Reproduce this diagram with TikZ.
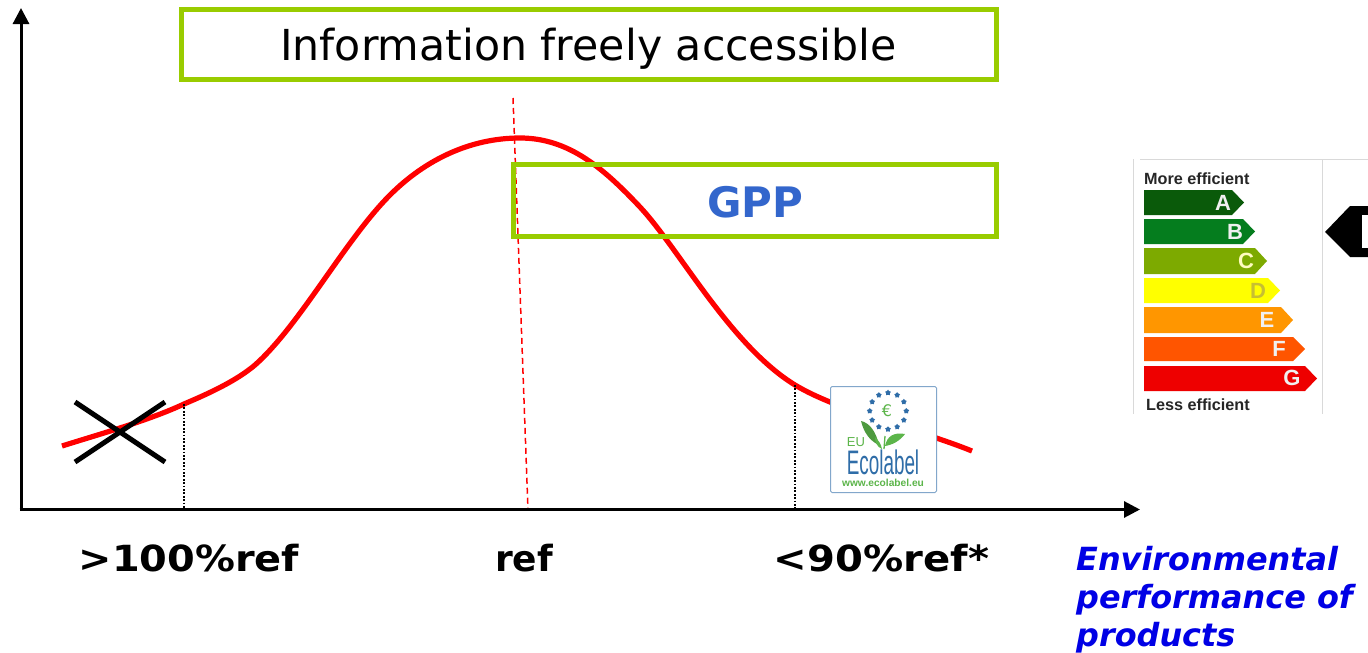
\documentclass[tikz,border=0pt]{standalone}
\usepackage{fontspec}
\setmainfont{DejaVu Sans}
\newfontfamily\arialf{Liberation Sans}
\usetikzlibrary{arrows.meta,shapes.geometric}
\definecolor{boxgreen}{HTML}{99CC00}
\definecolor{gppblue}{HTML}{3366CC}
\definecolor{logoblue}{HTML}{2F6DA8}
\definecolor{logogreen}{HTML}{5CB54A}
\tikzset{
  greenbox/.style={draw=boxgreen,line width=5pt,fill=none,inner sep=0pt,outer sep=0pt,anchor=north west},
  axisline/.style={line width=3pt,-{Triangle[length=16pt,width=16pt]}},
  dropline/.style={line width=1.5pt,dash pattern=on 1.7pt off 1.7pt},
  crossline/.style={line width=5pt},
  axislabel/.style={font=\fontsize{36}{36}\selectfont\bfseries,inner sep=0pt},
  gradeletter/.style={font=\arialf\fontsize{22}{22}\selectfont\bfseries,inner sep=0pt,text=white!88!gray},
  effnote/.style={font=\arialf\fontsize{16.2}{16.2}\selectfont\bfseries,inner sep=0pt,anchor=west,text=black!85},
  logostar/.style={star,star points=5,fill=logoblue,draw=none,minimum size=6pt,inner sep=0pt}
}
\begin{document}
\begin{tikzpicture}[x=1pt,y=-1pt]
\useasboundingbox (0,0) rectangle (1368,653);
\fill[white] (0,0) rectangle (1368,653);

% curve and its reference line
\coordinate (refTop) at (513,98);
\coordinate (refBase) at (528,510);
\draw[red,line width=1.5pt,dash pattern=on 6pt off 4pt] (refTop) -- (refBase);
\draw[red,line width=5.2pt,line join=round] (62,446)
 .. controls (100,434) and (150,420) .. (184,404)
 .. controls (205,395) and (235,382) .. (255,365)
 .. controls (300,325) and (345,240) .. (390,195)
 .. controls (425,160) and (470,138) .. (520,138)
 .. controls (570,138) and (605,170) .. (640,207)
 .. controls (680,250) and (730,345) .. (795,385)
 .. controls (840,412) and (915,428) .. (972,451);

% axes
\coordinate (origin) at (21,509.5);
\coordinate (yEnd) at (21,8);
\coordinate (xEnd) at (1140,509.5);
\draw[axisline] (origin) -- (yEnd);
\draw[axisline] ([xshift=-1.5pt]origin) -- (xEnd);

% drop lines
\coordinate (dropA) at (184,404);
\coordinate (dropAb) at (184,509);
\coordinate (dropB) at (795,385);
\coordinate (dropBb) at (795,509);
\draw[dropline] (dropA) -- (dropAb);
\draw[dropline] (dropB) -- (dropBb);

% cross
\coordinate (c1) at (75,402); \coordinate (c2) at (165,462);
\coordinate (c3) at (75,462); \coordinate (c4) at (165,402);
\draw[crossline] (c1) -- (c2);
\draw[crossline] (c3) -- (c4);

% boxes
\node[greenbox,minimum width=814.5pt,minimum height=70pt] (info) at (181.5,9.5) {};
\node[font=\fontsize{42.7}{44}\selectfont,inner sep=0pt] (infotext) at (588.5,49) {Information freely accessible};
\node[greenbox,minimum width=483pt,minimum height=71.5pt] (gpp) at (513.5,164.5) {};
\node[font=\fontsize{42}{42}\selectfont\bfseries,text=gppblue,inner sep=0pt] (gpptext) at (755.5,202) {GPP};

% axis labels
\node[axislabel,xscale=1.107] (lowlab) at (189,558) {>100\%ref};
\node[axislabel] (reflab) at (524,558) {ref};
\node[axislabel,xscale=1.115] (highlab) at (881.5,558) {<90\%ref*};
\node[font=\fontsize{31.9}{38}\selectfont\bfseries\itshape,text=blue!90!black,align=left,anchor=north west,inner sep=0pt] (envlab) at (1076,546)
 {Environmental\\performance of\\products};

% Ecolabel logo
\fill[white,draw=logoblue!60!white,line width=1pt,rounded corners=1.5pt] (830.5,386.5) rectangle (936.5,492.5);
\foreach \a in {0,30,...,330}
  \node[logostar] (st\a) at ({888+18.3*cos(\a)},{411+18.3*sin(\a)}) {};
\node[font=\fontsize{16}{16}\selectfont,text=logogreen,inner sep=0pt] (euro) at (887,410.5) {€};
\fill[logogreen!85!black] (861,421) .. controls (870,423) and (876,432) .. (879,445) .. controls (870,441) and (864,433) .. (861,421) -- cycle;
\fill[logogreen] (885,446) .. controls (887,436) and (894,432) .. (905,434) .. controls (900,441) and (892,445) .. (885,446) -- cycle;
\fill[logogreen] (875,437) .. controls (879,441) and (881,444) .. (882,449) .. controls (877,447) and (875,442) .. (875,437) -- cycle;
\draw[logogreen,line width=1.3pt] (884,449) -- (885,436);
\node[font=\arialf\fontsize{13}{13}\selectfont,text=logogreen,inner sep=0pt] (eu) at (856,442.5) {EU};
\node[font=\arialf\fontsize{34}{34}\selectfont,text=logoblue,inner sep=0pt,xscale=0.555] (eco) at (883,462.5) {Ecolabel};
\node[font=\arialf\fontsize{10.2}{10.2}\selectfont\bfseries,text=logogreen,inner sep=0pt] (www) at (883,483) {www.ecolabel.eu};

% energy label
\draw[black!15,line width=1pt] (1133.5,159) -- (1133.5,414);
\draw[black!15,line width=1pt] (1322,159) -- (1322,414);
\draw[black!15,line width=0.8pt] (1140,159) -- (1368,159);
\node[effnote] (more) at (1144,179) {More efficient};
\node[effnote] (less) at (1146,405) {Less efficient};
\fill[fill={rgb,255:red,10;green,90;blue,10}] (1144,190) -- (1232,190) -- (1244,202.5) -- (1232,215) -- (1144,215) -- cycle;
\fill[fill={rgb,255:red,5;green,125;blue,30}] (1144,219) -- (1243,219) -- (1255,231.5) -- (1243,244) -- (1144,244) -- cycle;
\fill[fill={rgb,255:red,125;green,170;blue,0}] (1144,248) -- (1255,248) -- (1267,261) -- (1255,274) -- (1144,274) -- cycle;
\fill[fill={rgb,255:red,255;green,255;blue,0}] (1144,278) -- (1268,278) -- (1280,290.5) -- (1268,303) -- (1144,303) -- cycle;
\fill[fill={rgb,255:red,255;green,150;blue,0}] (1144,307) -- (1281,307) -- (1293,320) -- (1281,333) -- (1144,333) -- cycle;
\fill[fill={rgb,255:red,255;green,85;blue,0}] (1144,337) -- (1293,337) -- (1305,349) -- (1293,361) -- (1144,361) -- cycle;
\fill[fill={rgb,255:red,238;green,0;blue,0}] (1144,366) -- (1305,366) -- (1317,378.5) -- (1305,391) -- (1144,391) -- cycle;
\node[gradeletter] (la) at (1223,203) {A};
\node[gradeletter] (lb) at (1235,232) {B};
\node[gradeletter,text=white!75!yellow] (lc) at (1246,261) {C};
\node[gradeletter,text=yellow!75!black] (ld) at (1258,291) {D};
\node[gradeletter] (le) at (1267,320) {E};
\node[gradeletter] (lf) at (1279,349) {F};
\node[gradeletter] (lg) at (1292,378) {G};
\fill[black] (1325,232) -- (1350,206) -- (1368,206) -- (1368,257) -- (1350,257) -- cycle;
\fill[white] (1362,215) rectangle (1368,248);
\end{tikzpicture}
\end{document}
